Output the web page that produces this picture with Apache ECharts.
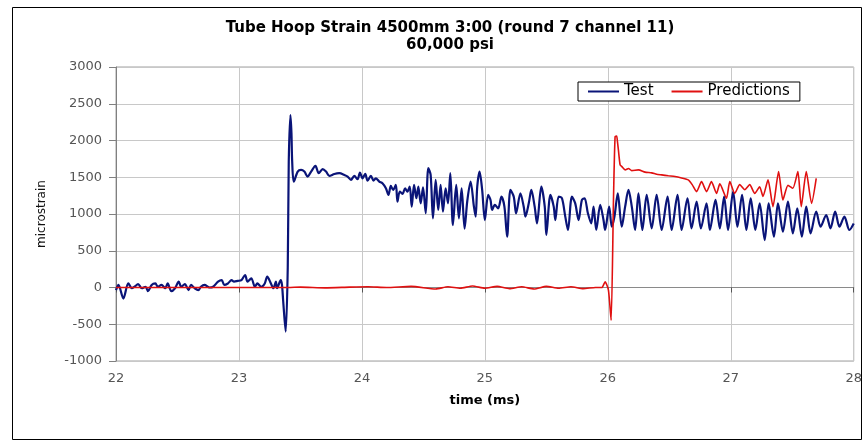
<!DOCTYPE html>
<html>
<head>
<meta charset="utf-8">
<script src="https://cdn.jsdelivr.net/npm/echarts@6/dist/echarts.min.js"></script>
<style>
html,body{margin:0;padding:0;background:#fff;}
#chart{width:865px;height:443px;}
</style>
</head>
<body>
<div id="chart"></div>
<script>
var titleText = 'Tube Hoop Strain 4500mm 3:00 (round 7 channel 11)\n60,000 psi';
var xTicks = [22, 23, 24, 25, 26, 27, 28];
var yTicks = [-1000, -500, 0, 500, 1000, 1500, 2000, 2500, 3000];

var testTime = [
22.00,22.02,22.06,22.10,22.13,22.15,22.18,22.21,22.24,22.26,22.29,22.32,22.34,22.37,22.40,22.42,22.45,22.48,22.51,22.53,
22.56,22.59,22.61,22.64,22.67,22.69,22.72,22.76,22.79,22.83,22.86,22.88,22.91,22.94,22.96,22.99,23.02,23.05,23.07,23.10,
23.13,23.15,23.18,23.21,23.23,23.26,23.28,23.30,23.31,23.34,23.35,23.36,23.38,23.397,23.405,23.419,23.427,23.433,23.446,
23.478,23.505,23.532,23.559,23.587,23.622,23.649,23.681,23.708,23.735,23.776,23.816,23.857,23.884,23.911,23.938,23.965,23.984,
24.005,24.027,24.046,24.073,24.094,24.113,24.141,24.167,24.195,24.216,24.235,24.254,24.276,24.289,24.308,24.330,24.351,24.370,
24.389,24.405,24.424,24.443,24.459,24.478,24.497,24.519,24.540,24.559,24.578,24.600,24.621,24.640,24.659,24.681,24.700,24.719,
24.740,24.767,24.789,24.811,24.835,24.857,24.884,24.911,24.925,24.938,24.957,24.978,25.000,25.027,25.046,25.059,25.081,25.108,
25.135,25.159,25.181,25.208,25.235,25.254,25.289,25.316,25.330,25.357,25.378,25.405,25.424,25.459,25.487,25.500,25.533,25.560,
25.573,25.600,25.627,25.654,25.676,25.708,25.735,25.762,25.789,25.811,25.838,25.865,25.884,25.906,25.938,25.965,25.978,26.011,
26.032,26.054,26.081,26.113,26.141,26.168,26.195,26.222,26.249,26.281,26.316,26.357,26.397,26.438,26.486,26.519,26.567,26.600,
26.648,26.681,26.722,26.757,26.803,26.830,26.876,26.911,26.946,26.978,27.019,27.054,27.092,27.127,27.162,27.200,27.235,27.276,
27.308,27.351,27.384,27.424,27.465,27.505,27.541,27.578,27.614,27.649,27.695,27.730,27.776,27.811,27.849,27.884,27.924,27.965,28.000
];
var testStrain = [
-35,35,-150,55,-10,10,45,-10,10,-50,35,55,10,35,-10,55,-50,-10,80,10,
45,-35,35,-10,-35,10,35,0,10,80,100,35,55,100,80,90,100,170,80,125,
10,55,10,55,150,55,-10,80,-10,100,35,-190,-600,285,1710,2347,2100,1710,1440,
1577,1600,1577,1509,1577,1655,1555,1610,1577,1518,1545,1555,1532,1509,1464,1518,1473,1564,
1486,1545,1455,1518,1455,1486,1441,1418,1350,1260,1382,1327,1395,1168,1305,1273,1350,1305,
1373,1100,1395,1214,1373,1145,1364,1010,1623,1532,941,1464,1055,1395,1032,1350,1145,1555,
850,1395,941,1350,800,1177,1441,1100,964,1373,1577,1327,918,1259,1191,1055,1123,1077,
1236,1100,691,1327,1236,1009,1282,1100,964,1145,1327,1100,873,1373,1100,714,1259,1100,
918,1236,1214,964,782,1236,1145,918,1191,1214,1009,873,1100,782,1123,918,782,1100,
827,964,1282,827,1100,1327,1100,782,1282,782,1259,805,1259,782,1236,782,1259,782,
1214,805,1168,805,1145,782,1191,805,1236,782,1305,827,1259,782,1214,782,1145,645,
1145,691,1145,759,1168,736,1077,691,1100,736,1032,827,986,805,1032,827,964,782,870
];

var predTime = [
22.00,23.40,23.50,23.70,23.90,24.05,24.20,24.40,24.60,24.70,24.80,24.90,25.00,25.10,25.20,25.30,25.40,25.50,25.60,25.70,
25.80,25.90,25.951,25.978,26.005,26.027,26.046,26.059,26.072,26.078,26.086,26.100,26.114,26.141,26.168,26.195,26.249,26.303,
26.357,26.397,26.438,26.492,26.546,26.600,26.654,26.686,26.722,26.762,26.803,26.843,26.884,26.911,26.965,26.992,27.032,27.073,
27.114,27.154,27.195,27.235,27.262,27.303,27.343,27.389,27.424,27.465,27.505,27.546,27.573,27.614,27.657,27.695
];
var predStrain = [
0,0,5,-5,5,10,0,15,-20,10,-10,20,-10,15,-15,10,-20,15,-10,10,
-15,0,0,77,-36,-445,1190,2050,2060,1990,1873,1668,1645,1600,1620,1590,1600,1570,
1560,1540,1532,1520,1510,1490,1464,1400,1305,1440,1305,1440,1280,1410,1214,1441,1280,1400,
1330,1400,1280,1370,1240,1464,1100,1577,1191,1390,1350,1577,1100,1577,1145,1486
];

var fontFamily = 'DejaVu Sans';
var testData = testTime.map(function (t, i) { return [t, testStrain[i]]; });
var predData = predTime.map(function (t, i) { return [t, predStrain[i]]; });

var chart = echarts.init(document.getElementById('chart'), null, {renderer: 'canvas'});
chart.setOption({
  backgroundColor: '#ffffff',
  animation: false,
  textStyle: {fontFamily: fontFamily},
  graphic: [{
    type: 'rect', silent: true, z: -10,
    shape: {x: 12.5, y: 7.5, width: 849, height: 432},
    style: {fill: 'none', stroke: '#000', lineWidth: 1}
  }],
  title: {
    text: titleText,
    left: 445,
    textAlign: 'center',
    top: 15,
    textStyle: {fontFamily: fontFamily, fontSize: 15, fontWeight: 'bold', color: '#000', lineHeight: 17}
  },
  legend: {
    left: 578, top: 82,
    data: ['Test', 'Predictions'],
    icon: 'rect',
    itemWidth: 31, itemHeight: 2, itemGap: 18,
    padding: [2, 10, 2, 10],
    borderColor: '#000', borderWidth: 1,
    backgroundColor: '#fff',
    textStyle: {fontFamily: fontFamily, fontSize: 15, color: '#000'}
  },
  grid: {
    left: 116, right: 9, top: 67, bottom: 82,
    show: true, borderColor: '#a0a0a0', borderWidth: 1, backgroundColor: '#fff'
  },
  xAxis: [{
    type: 'value', min: xTicks[0], max: xTicks[xTicks.length - 1], interval: 1,
    position: 'bottom',
    name: 'time (ms)', nameLocation: 'middle', nameGap: 33,
    nameTextStyle: {fontFamily: fontFamily, fontSize: 13, fontWeight: 'bold', color: '#000'},
    axisLine: {show: false, onZero: false},
    axisTick: {show: false},
    axisLabel: {fontSize: 13, color: '#555', margin: 11},
    splitLine: {show: true, lineStyle: {color: '#c8c8c8', width: 1}}
  }, {
    type: 'value', min: xTicks[0], max: xTicks[xTicks.length - 1], interval: 1,
    position: 'top',
    axisLine: {show: true, onZero: true, lineStyle: {color: '#8a8a8a', width: 1}},
    axisTick: {show: true, inside: true, length: 5, lineStyle: {color: '#555'}},
    axisLabel: {show: false},
    splitLine: {show: false}
  }],
  yAxis: {
    type: 'value', min: yTicks[0], max: yTicks[yTicks.length - 1], interval: 500,
    name: 'microstrain', nameLocation: 'middle', nameGap: 68,
    nameTextStyle: {fontFamily: fontFamily, fontSize: 12, color: '#111'},
    axisLine: {show: true, lineStyle: {color: '#808080', width: 1}},
    axisTick: {show: true, length: 7, lineStyle: {color: '#808080'}},
    axisLabel: {fontSize: 13, color: '#555', margin: 14, formatter: function (v) { return String(v); }},
    splitLine: {show: true, lineStyle: {color: '#c8c8c8', width: 1}}
  },
  series: [{
    name: 'Test', type: 'line', data: testData,
    showSymbol: false, smooth: 0.3,
    lineStyle: {color: '#0a1478', width: 2.2},
    itemStyle: {color: '#0a1478'},
    z: 3
  }, {
    name: 'Predictions', type: 'line', data: predData,
    showSymbol: false, smooth: 0.2,
    lineStyle: {color: '#e01010', width: 1.6},
    itemStyle: {color: '#e01010'},
    z: 4
  }]
});
</script>
</body>
</html>
